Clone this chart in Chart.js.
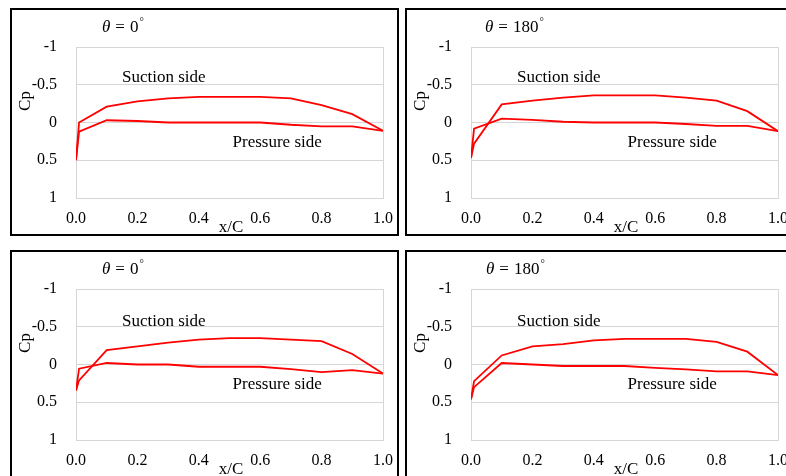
<!DOCTYPE html>
<html><head><meta charset="utf-8">
<script src="https://cdn.jsdelivr.net/npm/chart.js@4.4.0/dist/chart.umd.min.js"></script>
<style>
html,body{margin:0;padding:0;background:#fff;}
body{width:786px;height:476px;overflow:hidden;position:relative}
.frame{position:absolute;border:2px solid #000;box-sizing:border-box}
canvas{position:absolute}
</style></head><body>
<div class="frame" style="left:10px;top:8px;width:389px;height:228px"></div>
<div class="frame" style="left:405px;top:8px;width:400px;height:228px"></div>
<div class="frame" style="left:10px;top:250px;width:389px;height:240px"></div>
<div class="frame" style="left:405px;top:250px;width:400px;height:240px"></div>
<canvas id="c1" width="386" height="224" style="left:12px;top:10px"></canvas>
<canvas id="c2" width="386" height="224" style="left:407px;top:10px"></canvas>
<canvas id="c3" width="386" height="224" style="left:12px;top:252px"></canvas>
<canvas id="c4" width="386" height="224" style="left:407px;top:252px"></canvas>
<script>
// chordwise positions x/C
const xPos = [0, 0.01, 0.1, 0.2, 0.3, 0.4, 0.5, 0.6, 0.7, 0.8, 0.9, 1.0];
const xTicks = [0, 0.2, 0.4, 0.6, 0.8, 1.0];
const yTicks = [-1, -0.5, 0, 0.5, 1];
const titles = ['0', '180', '0', '180'];

// Panel 1 (top-left, θ = 0°)
const p1Suction  = [0.50, 0.00, -0.21, -0.28, -0.32, -0.34, -0.34, -0.34, -0.32, -0.23, -0.11, 0.11];
const p1Pressure = [0.50, 0.12, -0.03, -0.02, 0.00, 0.00, 0.00, 0.00, 0.03, 0.05, 0.05, 0.11];
// Panel 2 (top-right, θ = 180°)
const p2Suction  = [0.47, 0.28, -0.24, -0.29, -0.33, -0.36, -0.36, -0.36, -0.33, -0.29, -0.15, 0.115];
const p2Pressure = [0.47, 0.08, -0.05, -0.035, -0.01, 0.00, 0.00, 0.00, 0.02, 0.045, 0.045, 0.115];
// Panel 3 (bottom-left, θ = 0°)
const p3Suction  = [0.345, 0.21, -0.19, -0.24, -0.29, -0.33, -0.35, -0.35, -0.33, -0.31, -0.14, 0.12];
const p3Pressure = [0.345, 0.055, -0.02, 0.00, 0.00, 0.03, 0.03, 0.03, 0.06, 0.10, 0.075, 0.12];
// Panel 4 (bottom-right, θ = 180°)
const p4Suction  = [0.46, 0.22, -0.12, -0.24, -0.27, -0.32, -0.34, -0.34, -0.34, -0.30, -0.17, 0.14];
const p4Pressure = [0.46, 0.30, -0.02, 0.00, 0.02, 0.02, 0.02, 0.045, 0.065, 0.09, 0.09, 0.14];

const panels = [
  {id:'c1', angle:titles[0], s:p1Suction, p:p1Pressure, sucY:-0.60, preY:0.265, titleDx:26},
  {id:'c2', angle:titles[1], s:p2Suction, p:p2Pressure, sucY:-0.60, preY:0.265, titleDx:14},
  {id:'c3', angle:titles[2], s:p3Suction, p:p3Pressure, sucY:-0.57, preY:0.265, titleDx:26},
  {id:'c4', angle:titles[3], s:p4Suction, p:p4Pressure, sucY:-0.57, preY:0.265, titleDx:15}
];

const SERIF = '"Liberation Serif", "Times New Roman", serif';
const GRID = '#d6d6d6';

const textPlugin = {
  id: 'panelText',
  afterDraw(chart, args, o) {
    const {ctx, chartArea: ca, scales: {x, y}} = chart;
    ctx.save();
    ctx.fillStyle = '#000';
    ctx.textAlign = 'left';
    ctx.textBaseline = 'alphabetic';
    // title θ = N°
    let tx = ca.left + o.titleDx;
    const ty = 22;
    ctx.font = 'italic 17px ' + SERIF;
    ctx.fillText('θ', tx, ty);
    tx += ctx.measureText('θ').width + 5;
    ctx.font = '17px ' + SERIF;
    ctx.fillText('=', tx, ty);
    tx += ctx.measureText('=').width + 5;
    ctx.fillText(o.angle, tx, ty);
    tx += ctx.measureText(o.angle).width + 1;
    ctx.font = '11px ' + SERIF;
    ctx.fillText('°', tx, ty - 7);
    // annotations
    ctx.font = '17px ' + SERIF;
    ctx.textBaseline = 'middle';
    ctx.fillText('Suction side', x.getPixelForValue(0.15), y.getPixelForValue(o.sucY));
    ctx.fillText('Pressure side', x.getPixelForValue(0.51), y.getPixelForValue(o.preY));
    // x/C
    ctx.textAlign = 'center';
    ctx.textBaseline = 'alphabetic';
    ctx.fillText('x/C', ca.left + 155, 222);
    // Cp
    ctx.translate(13.5, 91);
    ctx.rotate(-Math.PI / 2);
    ctx.textBaseline = 'middle';
    ctx.fillText('Cp', 0, 0);
    ctx.restore();
  }
};

function toPts(vals) { return xPos.map((xv, i) => ({x: xv, y: vals[i]})); }

panels.forEach(pn => {
  new Chart(document.getElementById(pn.id), {
    type: 'scatter',
    data: {
      datasets: [
        {label: 'Suction side', data: toPts(pn.s), showLine: true, borderColor: '#ff0000', borderWidth: 1.8, pointRadius: 0, tension: 0, fill: false},
        {label: 'Pressure side', data: toPts(pn.p), showLine: true, borderColor: '#ff0000', borderWidth: 1.8, pointRadius: 0, tension: 0, fill: false}
      ]
    },
    options: {
      responsive: false,
      animation: false,
      layout: {padding: {top: 37, right: 15, left: 0, bottom: 0}},
      plugins: {legend: {display: false}, tooltip: {enabled: false}, panelText: pn},
      scales: {
        x: {
          type: 'linear', min: 0, max: 1,
          afterBuildTicks: s => { s.ticks = xTicks.map(v => ({value: v})); },
          afterFit: s => { s.height = 36; s.paddingRight = 0; s.paddingLeft = 0; },
          ticks: {padding: 11, color: '#000', font: {family: SERIF, size: 16}, callback: v => v.toFixed(1), maxRotation: 0},
          grid: {drawTicks: false, color: c => (c.tick && c.tick.value === 1 ? GRID : 'rgba(0,0,0,0)')},
          border: {display: true, color: GRID, width: 1}
        },
        y: {
          type: 'linear', min: -1, max: 1, reverse: true,
          afterBuildTicks: s => { s.ticks = yTicks.map(v => ({value: v})); },
          afterFit: s => { s.width = 64; s.paddingTop = 0; s.paddingBottom = 0; },
          ticks: {padding: 19, color: '#000', font: {family: SERIF, size: 16}, callback: v => String(v)},
          grid: {drawTicks: false, color: GRID},
          border: {display: true, color: GRID, width: 1}
        }
      }
    },
    plugins: [textPlugin]
  });
});
</script>
</body></html>
